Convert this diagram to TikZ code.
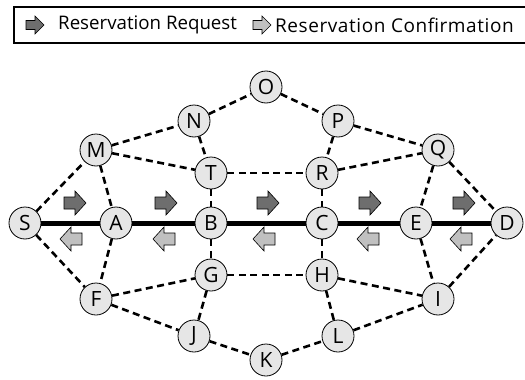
\documentclass[tikz,border=0pt]{standalone}
\usepackage{fontspec}
\setmainfont{Open Sans}
\definecolor{reqgray}{RGB}{110,110,110}
\definecolor{confgray}{RGB}{192,192,192}
\definecolor{nodegray}{RGB}{230,230,230}
\tikzset{
  x=1pt, y=-1pt,
  router/.style={circle, draw=black, line width=0.8pt, fill=nodegray,
    minimum size=32pt, inner sep=0pt, font=\fontsize{21}{21}\selectfont},
  link/.style={line width=2.6pt, dash pattern=on 7pt off 4.5pt},
  path/.style={line width=5pt},
  legtext/.style={anchor=west, inner sep=0pt, font=\fontsize{18.7}{18.7}\selectfont},
  pics/rarrow/.style={code={
    \filldraw[fill=#1, draw=black, line width=0.6pt]
      (-11,-6) -- (0,-6) -- (0,-12) -- (11,0) -- (0,12) -- (0,6) -- (-11,6) -- cycle;}},
  pics/larrow/.style={code={
    \filldraw[fill=#1, draw=black, line width=0.6pt]
      (11,-6) -- (0,-6) -- (0,-12) -- (-11,0) -- (0,12) -- (0,6) -- (11,6) -- cycle;}},
  pics/legarrow/.style={code={
    \filldraw[fill=#1, draw=black, line width=0.6pt]
      (-9,-4.5) -- (0,-4.5) -- (0,-9) -- (9,0) -- (0,9) -- (0,4.5) -- (-9,4.5) -- cycle;}},
}
\begin{document}
\begin{tikzpicture}
\useasboundingbox (0,0) rectangle (525,380);
\fill[white] (0,0) rectangle (525,380);

% legend
\draw[line width=1.4pt] (14,7) rectangle (532,43);
\pic at (35,25) {legarrow=reqgray};
\node[legtext] (legreq) at (58,25) {Reservation Request};
\pic at (262,25) {legarrow=confgray};
\node[legtext, font=\fontsize{19}{19}\selectfont\addfontfeature{LetterSpace=3}]
  (legconf) at (275,25) {Reservation Confirmation};

% routers
\node[router] (S) at (25,223) {S};
\node[router] (A) at (116,223) {A};
\node[router] (B) at (211,223) {B};
\node[router] (C) at (322,223) {C};
\node[router] (E) at (416,223) {E};
\node[router] (D) at (507,223) {D};
\node[router] (M) at (96,150) {M};
\node[router] (N) at (194,121) {N};
\node[router] (O) at (266,87) {O};
\node[router] (P) at (338,121) {P};
\node[router] (Q) at (438,150) {Q};
\node[router] (T) at (211,173) {T};
\node[router] (R) at (322,173) {R};
\node[router] (G) at (211,275) {G};
\node[router] (H) at (322,275) {H};
\node[router] (F) at (96,299) {F};
\node[router] (J) at (194,336) {J};
\node[router] (K) at (266,360) {K};
\node[router] (L) at (338,336) {L};
\node[router] (I) at (438,299) {I};

% dashed links
\foreach \u/\v in {S/M, S/F, M/A, M/N, M/T, N/O, N/T, O/P, P/R, P/Q, R/Q,
                   Q/E, Q/D, T/R, T/B, R/C, B/G, C/H, G/H, A/F, F/G, F/J,
                   G/J, J/K, K/L, H/L, H/I, L/I, E/I, I/D}
  \draw[link] (\u) -- (\v);

% reserved path
\draw[path] (S) -- (A) -- (B) -- (C) -- (E) -- (D);

% request / confirmation arrows
\foreach \x in {75,166,268,370,464}
  \pic at (\x,203) {rarrow=reqgray};
\foreach \x in {71,164,264,368,461}
  \pic at (\x,239) {larrow=confgray};
\end{tikzpicture}
\end{document}
